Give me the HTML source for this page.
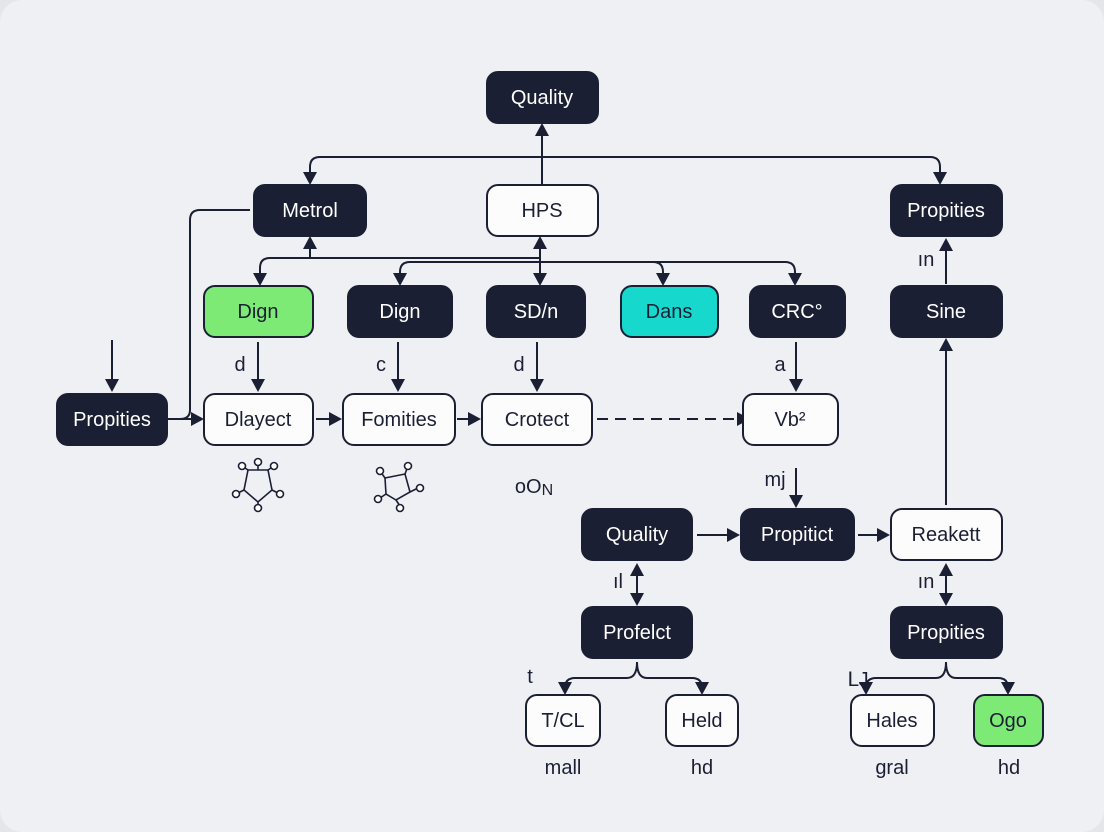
<!DOCTYPE html>
<html><head><meta charset="utf-8"><style>
body{margin:0;background:#e4e6ea;}
svg{display:block}
text{font-family:"Liberation Sans",sans-serif;font-size:20px;text-anchor:middle;dominant-baseline:central}
</style></head><body>
<svg width="1104" height="832" viewBox="0 0 1104 832">
<defs><marker id="a" markerWidth="14" markerHeight="14" refX="11" refY="7" orient="auto" markerUnits="userSpaceOnUse"><path d="M0,0 L13,7 L0,14 z" fill="#1b1f33"/></marker>
<marker id="s" markerWidth="14" markerHeight="14" refX="3" refY="7" orient="auto" markerUnits="userSpaceOnUse"><path d="M14,0 L1,7 L14,14 z" fill="#1b1f33"/></marker></defs>
<rect x="0" y="0" width="1104" height="832" rx="22" fill="#eef0f4"/>
<g stroke="#1b1f33" stroke-width="2" fill="none">
<path d="M542 185 V125" marker-end="url(#a)"/>
<path d="M542 157 Q542 157 532 157 H320 Q310 157 310 167 V183" marker-end="url(#a)"/>
<path d="M542 157 H930 Q940 157 940 167 V183" marker-end="url(#a)"/>
<path d="M250 210 H200 Q190 210 190 220 V410 Q190 419 180 419"/>
<path d="M167 419 H202" marker-end="url(#a)"/>
<path d="M112 340 V390" marker-end="url(#a)"/>
<path d="M310 258 V238" marker-end="url(#a)"/>
<path d="M310 258 H270 Q260 258 260 268 V284" marker-end="url(#a)"/>
<path d="M310 258 H540"/>
<path d="M540 262 V238" marker-end="url(#a)"/>
<path d="M540 262 H410 Q400 262 400 272 V284" marker-end="url(#a)"/>
<path d="M540 262 V284" marker-end="url(#a)"/>
<path d="M540 262 H653 Q663 262 663 272 V284" marker-end="url(#a)"/>
<path d="M540 262 H785 Q795 262 795 272 V284" marker-end="url(#a)"/>
<path d="M258 342 V390" marker-end="url(#a)"/>
<path d="M398 342 V390" marker-end="url(#a)"/>
<path d="M537 342 V390" marker-end="url(#a)"/>
<path d="M796 342 V390" marker-end="url(#a)"/>
<path d="M316 419 H340" marker-end="url(#a)"/>
<path d="M457 419 H479" marker-end="url(#a)"/>
<path d="M597 419 H748" stroke-dasharray="11,7" marker-end="url(#a)"/>
<path d="M796 468 V506" marker-end="url(#a)"/>
<path d="M697 535 H738" marker-end="url(#a)"/>
<path d="M858 535 H888" marker-end="url(#a)"/>
<path d="M946 505 V340" marker-end="url(#a)"/>
<path d="M946 284 V240" marker-end="url(#a)"/>
<path d="M637 565 V604" marker-start="url(#s)" marker-end="url(#a)"/>
<path d="M946 565 V604" marker-start="url(#s)" marker-end="url(#a)"/>
<path d="M637 662 Q637 678 627 678 H575 Q565 678 565 688 V693" marker-end="url(#a)"/>
<path d="M637 662 Q637 678 647 678 H692 Q702 678 702 688 V693" marker-end="url(#a)"/>
<path d="M946 662 Q946 678 936 678 H876 Q866 678 866 688 V693" marker-end="url(#a)"/>
<path d="M946 662 Q946 678 956 678 H998 Q1008 678 1008 688 V693" marker-end="url(#a)"/>
</g>
<g stroke="#1b1f33" stroke-width="2">
<rect x="487" y="72" width="111" height="51" rx="11" fill="#1b1f33"/>
<rect x="254" y="185" width="112" height="51" rx="11" fill="#1b1f33"/>
<rect x="487" y="185" width="111" height="51" rx="11" fill="#fcfcfd"/>
<rect x="891" y="185" width="111" height="51" rx="11" fill="#1b1f33"/>
<rect x="204" y="286" width="109" height="51" rx="11" fill="#7eea76"/>
<rect x="348" y="286" width="104" height="51" rx="11" fill="#1b1f33"/>
<rect x="487" y="286" width="98" height="51" rx="11" fill="#1b1f33"/>
<rect x="621" y="286" width="97" height="51" rx="11" fill="#17d8cc"/>
<rect x="750" y="286" width="95" height="51" rx="11" fill="#1b1f33"/>
<rect x="891" y="286" width="111" height="51" rx="11" fill="#1b1f33"/>
<rect x="57" y="394" width="110" height="51" rx="11" fill="#1b1f33"/>
<rect x="204" y="394" width="109" height="51" rx="11" fill="#fcfcfd"/>
<rect x="343" y="394" width="112" height="51" rx="11" fill="#fcfcfd"/>
<rect x="482" y="394" width="110" height="51" rx="11" fill="#fcfcfd"/>
<rect x="743" y="394" width="95" height="51" rx="11" fill="#fcfcfd"/>
<rect x="582" y="509" width="110" height="51" rx="11" fill="#1b1f33"/>
<rect x="741" y="509" width="113" height="51" rx="11" fill="#1b1f33"/>
<rect x="891" y="509" width="111" height="51" rx="11" fill="#fcfcfd"/>
<rect x="582" y="607" width="110" height="51" rx="11" fill="#1b1f33"/>
<rect x="891" y="607" width="111" height="51" rx="11" fill="#1b1f33"/>
<rect x="526" y="695" width="74" height="51" rx="11" fill="#fcfcfd"/>
<rect x="666" y="695" width="72" height="51" rx="11" fill="#fcfcfd"/>
<rect x="851" y="695" width="83" height="51" rx="11" fill="#fcfcfd"/>
<rect x="974" y="695" width="69" height="51" rx="11" fill="#7eea76"/>
</g>
<g fill="#fff">
<text x="542" y="98">Quality</text><text x="310" y="211">Metrol</text>
<text x="946" y="211">Propities</text><text x="400" y="312">Dign</text>
<text x="536" y="312">SD/n</text><text x="797" y="312">CRC°</text>
<text x="946" y="312">Sine</text><text x="112" y="420">Propities</text>
<text x="637" y="535">Quality</text><text x="797" y="535">Propitict</text>
<text x="637" y="633">Profelct</text><text x="946" y="633">Propities</text>
</g>
<g fill="#1b1f33">
<text x="542" y="211">HPS</text><text x="258" y="312">Dign</text><text x="669" y="312">Dans</text>
<text x="258" y="420">Dlayect</text><text x="399" y="420">Fomities</text><text x="537" y="420">Crotect</text>
<text x="790" y="420">Vb²</text><text x="946" y="535">Reakett</text>
<text x="563" y="721">T/CL</text><text x="702" y="721">Held</text><text x="892" y="721">Hales</text><text x="1008" y="721">Ogo</text>
<text x="563" y="768">mall</text><text x="702" y="768">hd</text><text x="892" y="768">gral</text><text x="1009" y="768">hd</text>
<text x="240" y="365">d</text><text x="381" y="365">c</text><text x="519" y="365">d</text><text x="780" y="365">a</text>
<text x="775" y="480">mj</text><text x="926" y="260">ın</text><text x="618" y="582">ıl</text><text x="926" y="582">ın</text>
<text x="530" y="677">t</text><text x="858" y="680">ᒪJ</text>
<text x="534" y="487">oO<tspan font-size="16" dy="3">N</tspan></text>
</g>
<g stroke="#1b1f33" stroke-width="1.6" fill="#fff">
<path d="M248 470 L268 470 L272 490 L258 502 L244 490 Z" fill="none"/>
<path d="M248 470 L242 466 M268 470 L274 466 M272 490 L280 494 M258 502 L258 508 M244 490 L236 494 M258 470 L258 462" fill="none"/>
<circle cx="258" cy="462" r="3.5"/><circle cx="242" cy="466" r="3.5"/><circle cx="274" cy="466" r="3.5"/>
<circle cx="280" cy="494" r="3.5"/><circle cx="236" cy="494" r="3.5"/><circle cx="258" cy="508" r="3.5"/>
<path d="M385 478 L405 474 L410 492 L396 500 L386 494 Z" fill="none"/>
<path d="M385 478 L380 471 M405 474 L408 466 M410 492 L418 488 M396 500 L400 506 M386 494 L380 498" fill="none"/>
<circle cx="380" cy="471" r="3.5"/><circle cx="408" cy="466" r="3.5"/><circle cx="420" cy="488" r="3.5"/>
<circle cx="400" cy="508" r="3.5"/><circle cx="378" cy="499" r="3.5"/>
</g>
</svg>
</body></html>
